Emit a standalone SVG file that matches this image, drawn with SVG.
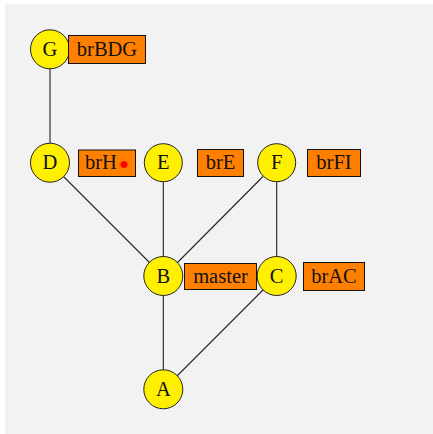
<svg xmlns="http://www.w3.org/2000/svg" width="433" height="434" viewBox="0 0 433 434">
<style>
.n circle{fill:#fff000;stroke:#222;stroke-width:1}
.t{font-family:"Liberation Serif","Times New Roman",serif;font-size:20.5px;fill:#111;text-anchor:middle}
.l rect{fill:#ff8000;stroke:#111;stroke-width:1}
.e line{stroke:#222;stroke-width:1.1}
</style>
<rect x="5" y="4" width="428" height="430" fill="#f2f2f2"/>
<g class="e" id="edges">
<line x1="50" y1="69" x2="50" y2="143"/>
<line x1="63.5" y1="176.5" x2="150" y2="263"/>
<line x1="163.3" y1="182" x2="163.3" y2="257"/>
<line x1="263" y1="176.5" x2="177" y2="263"/>
<line x1="276.7" y1="182" x2="276.7" y2="257"/>
<line x1="163.3" y1="295.5" x2="163.3" y2="370"/>
<line x1="263" y1="290" x2="177" y2="376"/>
</g>
<g class="n" id="G"><circle cx="50" cy="49.3" r="19.5"/><text class="t" x="50" y="56">G</text></g>
<g class="n" id="D"><circle cx="50" cy="162.7" r="19.5"/><text class="t" x="50" y="169.4">D</text></g>
<g class="n" id="E"><circle cx="163.3" cy="162.7" r="19"/><text class="t" x="163.3" y="169.4">E</text></g>
<g class="n" id="F"><circle cx="276.7" cy="162.7" r="19"/><text class="t" x="276.7" y="169.4">F</text></g>
<g class="n" id="B"><circle cx="163.3" cy="276" r="19.5"/><text class="t" x="163.3" y="282.7">B</text></g>
<g class="n" id="C"><circle cx="276.7" cy="276" r="19.5"/><text class="t" x="276.7" y="282.7">C</text></g>
<g class="n" id="A"><circle cx="163.3" cy="389.3" r="19.5"/><text class="t" x="163.3" y="396">A</text></g>
<g class="l" id="lbl-brBDG"><rect x="68.5" y="35.5" width="77" height="28"/><text class="t" x="107" y="56">brBDG</text></g>
<g class="l" id="lbl-brH"><rect x="78.5" y="150" width="57" height="26.5"/><text class="t" x="101" y="169.4">brH</text><circle cx="124" cy="164.5" r="3.5" fill="#ff0000"/></g>
<g class="l" id="lbl-brE"><rect x="197.5" y="149.5" width="46" height="27"/><text class="t" x="220.5" y="169.4">brE</text></g>
<g class="l" id="lbl-brFI"><rect x="307.5" y="149.5" width="53" height="27"/><text class="t" x="334" y="169.4">brFI</text></g>
<g class="l" id="lbl-master"><rect x="184.5" y="263.5" width="72" height="26"/><text class="t" x="220.5" y="282.7">master</text></g>
<g class="l" id="lbl-brAC"><rect x="303.5" y="262.5" width="61" height="28"/><text class="t" x="334" y="282.7">brAC</text></g>
</svg>
